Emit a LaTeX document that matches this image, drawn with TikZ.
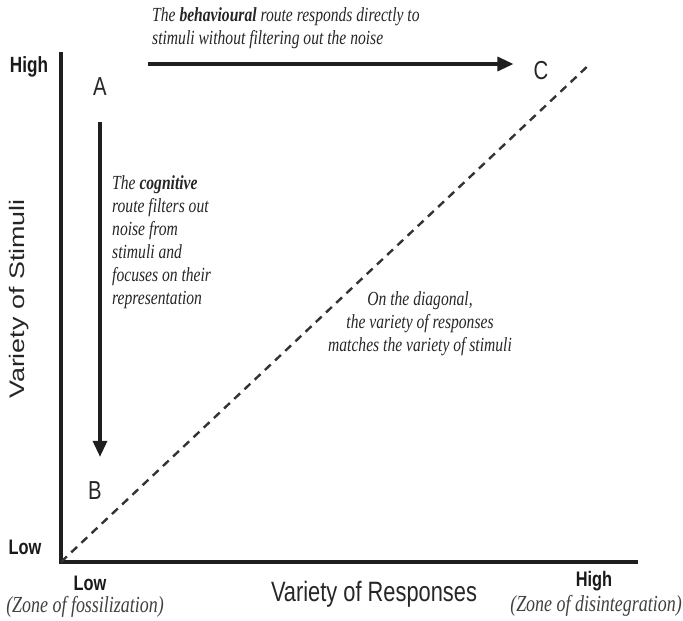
\documentclass[tikz,border=0pt]{standalone}
\usepackage{fontspec}
\usetikzlibrary{arrows.meta}
\setmainfont{Liberation Serif}
% narrow sans for horizontal labels, widened sans for the rotated axis title
\newfontfamily\labfont[FakeStretch=0.78]{Liberation Sans}
\newfontfamily\vlabfont[FakeStretch=1.28]{Liberation Sans}
\newfontfamily\notefont[FakeStretch=0.78]{Liberation Serif}
\begin{document}
\begin{tikzpicture}[x=1pt,y=-1pt,
  axis/.style={line width=3.2pt,line join=miter,black!88},
  route/.style={line width=3.2pt,black!88,-{Triangle[length=16pt,width=14pt]}},
  diag/.style={line width=2.4pt,black!80,dash pattern=on 8pt off 6pt},
  point/.style={font=\labfont\fontsize{26}{26}\selectfont,inner sep=0pt,text=black!85},
  level/.style={font=\labfont\bfseries\fontsize{21}{21}\selectfont,inner sep=0pt,text=black!90},
  axistitle/.style={font=\labfont\fontsize{28}{28}\selectfont,inner sep=0pt,text=black!85},
  note/.style={font=\notefont\itshape\fontsize{20}{23}\selectfont,inner sep=0pt,text=black!85},
  zone/.style={font=\notefont\itshape\fontsize{23}{23}\selectfont,inner sep=0pt,text=black!75}]
\useasboundingbox (0,0) rectangle (683,621);

% axes
\coordinate (origin) at (61,562);
\coordinate (ytop) at (61,52);
\coordinate (xend) at (638,562);
\coordinate (diagend) at (591,63);
\draw[axis] (ytop) -- (origin) -- (xend);

% diagonal where responses match stimuli
\draw[diag] (origin) -- (diagend);

% corner points
\node[point] (A) at (100,87) {A};
\node[point] (B) at (95,491) {B};
\node[point] (C) at (541,71) {C};

% cognitive route A -> B
\draw[route] ([yshift=-26pt]A.south) -- ([yshift=25pt]A.south |- B.north);

% behavioural route towards C
\coordinate (behstart) at (148,64);
\draw[route] (behstart) -- ([xshift=-20pt]behstart -| C.west);

% axis levels
\node[level,font=\labfont\bfseries\fontsize{22}{22}\selectfont] (yhigh) at (29,67) {High};
\node[level] (ylow) at (25,547) {Low};
\node[level] (xlow) at (90,583) {Low};
\node[level] (xhigh) at (594,581) {High};
\node[zone] (xlowzone) at (85,607) {(Zone of fossilization)};
\node[zone] (xhighzone) at (596,606) {(Zone of disintegration)};

% axis titles
\node[axistitle] (xtitle) at (374,594) {Variety of Responses};
\node[axistitle,font=\vlabfont\fontsize{21}{21}\selectfont,rotate=90] (ytitle) at (19,299) {Variety of Stimuli};

% annotations
\node[note,anchor=north west,align=left] (behnote) at (152,7)
  {The \textbf{behavioural} route responds directly to\\stimuli without filtering out the noise};
\node[note,anchor=north west,align=left] (cognote) at (112,175)
  {The \textbf{cognitive}\\route filters out\\noise from\\stimuli and\\focuses on their\\representation};
\node[note,anchor=north,align=center] (diagnote) at (420,291)
  {On the diagonal,\\the variety of responses\\matches the variety of stimuli};
\end{tikzpicture}
\end{document}
